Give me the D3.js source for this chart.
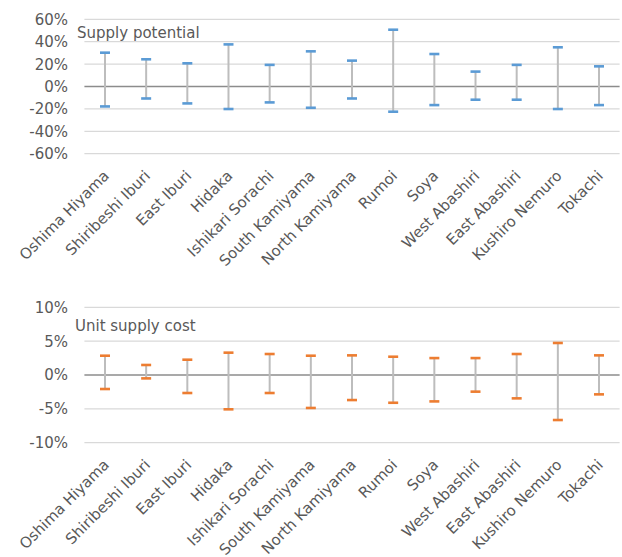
<!DOCTYPE html>
<html>
<head>
<meta charset="utf-8">
<script src="https://cdn.jsdelivr.net/npm/d3@7"></script>
<style>
  body { margin: 0; background: #fff; }
  svg text { font-family: "DejaVu Sans", Verdana, sans-serif; fill: #595959; }
</style>
</head>
<body>
<svg id="chart" width="622" height="557"></svg>
<script>
// Regions (x axis)
const categories = ['Oshima Hiyama', 'Shiribeshi Iburi', 'East Iburi', 'Hidaka', 'Ishikari Sorachi',
    'South Kamiyama', 'North Kamiyama', 'Rumoi', 'Soya', 'West Abashiri', 'East Abashiri',
    'Kushiro Nemuro', 'Tokachi'];

// Supply potential range (%)
const potentialHigh = [30.2, 24.3, 20.7, 37.6, 19.3, 31.4, 23.1, 50.7, 29.0, 13.3, 19.3, 35.0, 18.0];
const potentialLow = [-17.8, -10.7, -15.1, -20.1, -14.2, -19.0, -10.7, -22.5, -16.6, -11.8, -11.8, -20.1, -16.6];

// Unit supply cost range (%)
const costHigh = [2.85, 1.48, 2.26, 3.3, 3.1, 2.85, 2.9, 2.7, 2.5, 2.5, 3.1, 4.73, 2.9];
const costLow = [-2.07, -0.5, -2.66, -5.07, -2.66, -4.87, -3.7, -4.1, -3.9, -2.46, -3.45, -6.65, -2.86];

// Tick values
const potentialTicks = [60, 40, 20, 0, -20, -40, -60];
const costTicks = [10, 5, 0, -5, -10];

const svg = d3.select('#chart');

// Draw one error-bar panel
function drawPanel(opts) {
    const g = svg.append('g');

    const x = d3.scaleBand()
        .domain(categories)
        .range([84.4, 619.6])
        .padding(0);

    const y = d3.scaleLinear()
        .domain(opts.domain)
        .range([opts.bottom, opts.top]);

    // gridlines
    g.selectAll('.grid')
        .data(opts.ticks)
        .enter()
        .append('line')
        .attr('x1', 84.4)
        .attr('x2', 619.6)
        .attr('y1', d => y(d))
        .attr('y2', d => y(d))
        .attr('stroke', d => d === 0 ? '#8c8c8c' : '#d9d9d9')
        .attr('stroke-width', d => d === 0 ? 1.5 : 1.2);

    // tick labels
    g.selectAll('.ylab')
        .data(opts.ticks)
        .enter()
        .append('text')
        .attr('x', 68)
        .attr('y', d => y(d))
        .attr('dy', '0.36em')
        .attr('text-anchor', 'end')
        .style('font-size', '15px')
        .text(d => d + '%');

    // title inside plot
    g.append('text')
        .attr('x', opts.titleX)
        .attr('y', opts.titleY)
        .style('font-size', '15px')
        .text(opts.title);

    const cx = c => x(c) + x.bandwidth() / 2;

    // whiskers
    g.selectAll('.whisker')
        .data(categories)
        .enter()
        .append('line')
        .attr('x1', cx)
        .attr('x2', cx)
        .attr('y1', (c, i) => y(opts.high[i]))
        .attr('y2', (c, i) => y(opts.low[i]))
        .attr('stroke', '#bdbdbd')
        .attr('stroke-width', 2);

    // caps
    const caps = [];
    categories.forEach((c, i) => {
        caps.push({ c: c, v: opts.high[i] });
        caps.push({ c: c, v: opts.low[i] });
    });
    g.selectAll('.cap')
        .data(caps)
        .enter()
        .append('line')
        .attr('x1', d => cx(d.c) - 5)
        .attr('x2', d => cx(d.c) + 5)
        .attr('y1', d => y(d.v))
        .attr('y2', d => y(d.v))
        .attr('stroke', opts.color)
        .attr('stroke-width', 2.6);

    // rotated category labels
    g.selectAll('.xlab')
        .data(categories)
        .enter()
        .append('text')
        .attr('transform', c => `translate(${cx(c) + 5},${opts.bottom + 23}) rotate(-45)`)
        .attr('text-anchor', 'end')
        .style('font-size', '15px')
        .text(c => c);
}

drawPanel({
    domain: [-60, 60], top: 19.3, bottom: 153.7,
    ticks: potentialTicks, high: potentialHigh, low: potentialLow,
    color: '#5b9bd5', title: 'Supply potential', titleX: 77, titleY: 38
});

drawPanel({
    domain: [-10, 10], top: 307.3, bottom: 442.7,
    ticks: costTicks, high: costHigh, low: costLow,
    color: '#ed7d31', title: 'Unit supply cost', titleX: 75, titleY: 331
});
</script>
</body>
</html>
